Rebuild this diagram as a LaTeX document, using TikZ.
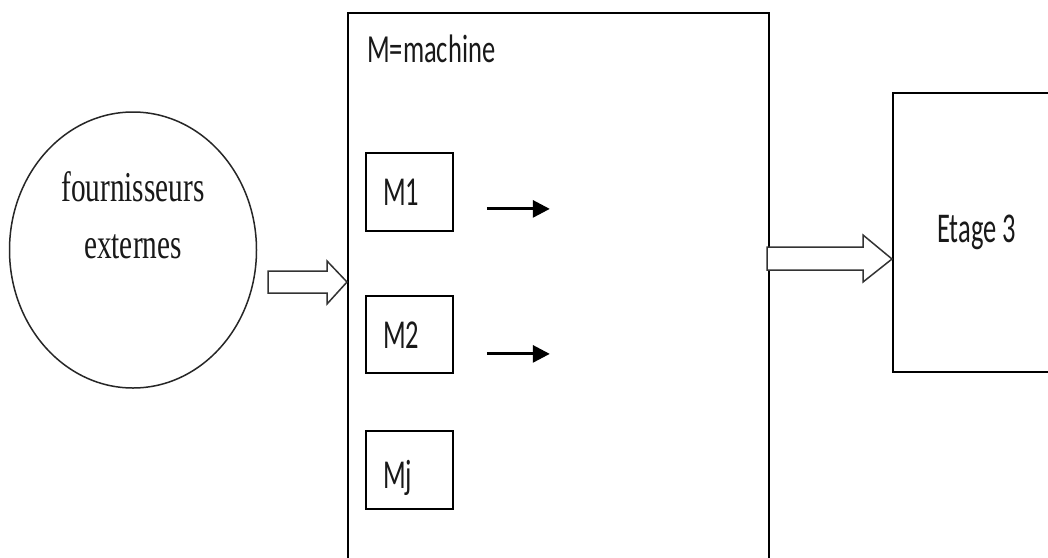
\documentclass[tikz,border=0pt]{standalone}
\usepackage{fontspec}
\usetikzlibrary{shapes.geometric,arrows.meta}
\newfontfamily\calibf{Carlito}
\newfontfamily\timesf{Liberation Serif}
\newcommand{\vs}[2]{\scalebox{1}[#1]{#2}}
\tikzset{
  box/.style={draw=black, line width=1.8pt, inner sep=0pt, fill=white},
  lbl/.style={anchor=base west, inner sep=0pt, text=black!90, font=\calibf\fontsize{26.5}{28}\selectfont},
  serif/.style={anchor=base, inner sep=0pt, text=black!90, font=\timesf\fontsize{29.3}{30}\selectfont},
  smallarr/.style={line width=3pt, -{Triangle[length=17pt,width=17pt]}},
  blockarr/.style={draw=black!80, line width=1.5pt, fill=white, line join=miter},
}
\begin{document}
\begin{tikzpicture}[x=1pt,y=-1pt]
\clip (0,0) rectangle (1048,557);
\fill[white] (0,0) rectangle (1048,557);
% supplier circle
\node[draw=black!85, line width=1.5pt, ellipse, inner sep=0pt, minimum width=247pt, minimum height=276pt] (F) at (133,250) {};
\node[serif] (f1) at (133,201) {\vs{1.45}{fournisseurs}};
\node[serif] (f2) at (133,258) {\vs{1.45}{externes}};
% machine box (open at bottom)
\node[box, anchor=north west, minimum width=421pt, minimum height=600pt] (M) at (347,12) {};
\node[lbl] (Mt) at (367,62) {\vs{1.5}{M=machine}};
% machines
\node[box, anchor=north west, minimum width=87pt, minimum height=78pt] (M1) at (365,152) {};
\node[box, anchor=north west, minimum width=87pt, minimum height=77pt] (M2) at (365,295) {};
\node[box, anchor=north west, minimum width=87pt, minimum height=78pt] (Mj) at (365,430) {};
\node[lbl] (t1) at (383,205) {\vs{1.55}{M1}};
\node[lbl] (t2) at (383,348) {\vs{1.55}{M2}};
\node[lbl] (tj) at (383,488) {\vs{1.55}{Mj}};
\draw[smallarr] ([shift={(33,17)}]M1.east) -- ([shift={(96,17)}]M1.east);
\draw[smallarr] ([shift={(33,19.5)}]M2.east) -- ([shift={(96,19.5)}]M2.east);
% stage 3 box
\node[box, anchor=north west, minimum width=300pt, minimum height=279pt] (E) at (892,92) {};
\node[lbl] (te) at (937,242) {\vs{1.6}{Etage 3}};
% block arrows
\coordinate (lt) at (M.north west |- 0,282);
\draw[blockarr] (lt) -- ++(-20,-21) -- ++(0,10) -- ++(-59,0) -- ++(0,22) -- ++(59,0) -- ++(0,11) -- cycle;
\coordinate (rt) at (E.north west |- 0,259);
\draw[blockarr] (rt) -- ++(-29,-24) -- ++(0,12) -- ++(-96,0) -- ++(0,23) -- ++(96,0) -- ++(0,12) -- cycle;
\end{tikzpicture}
\end{document}
